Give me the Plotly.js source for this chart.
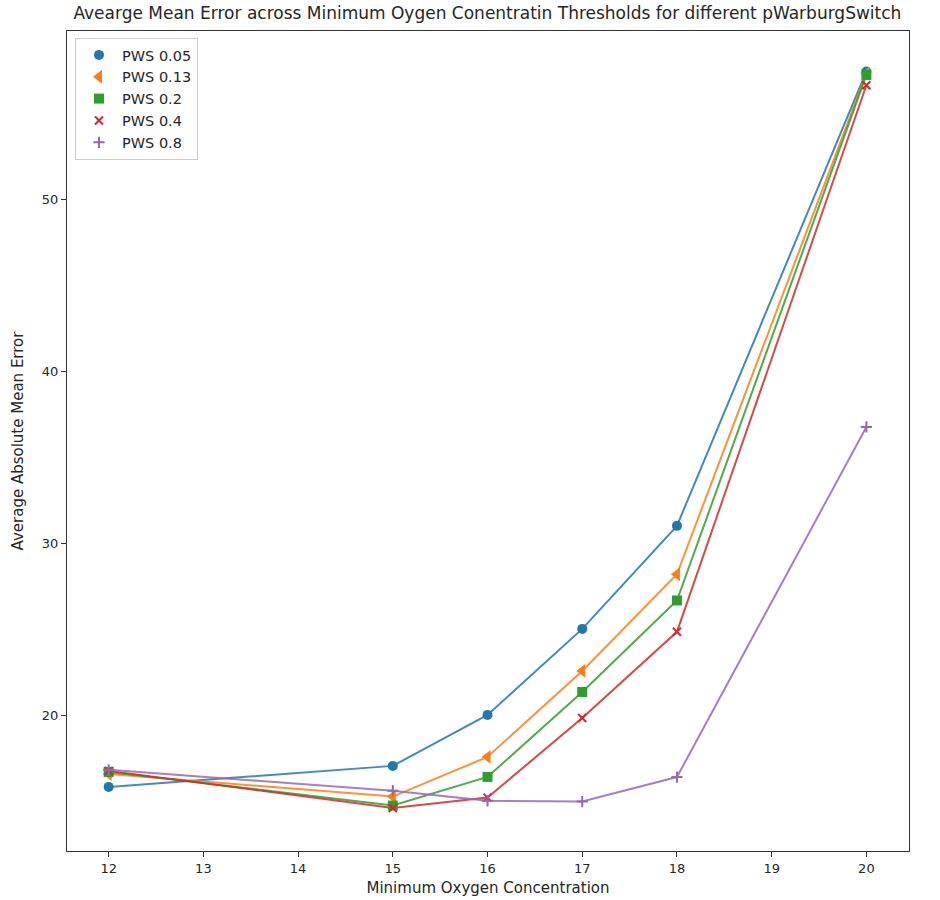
<!DOCTYPE html>
<html>
<head>
<meta charset="utf-8">
<script src="https://cdn.plot.ly/plotly-3.0.1.min.js"></script>
<style>body{margin:0;padding:0;background:#fff;} #chart{width:940px;height:900px;}</style>
</head>
<body>
<div id="chart"></div>
<script>
const xValues = [12, 15, 16, 17, 18, 20];
const seriesNames = ["PWS 0.05", "PWS 0.13", "PWS 0.2", "PWS 0.4", "PWS 0.8"];
const pws005 = [15.88, 17.10, 20.06, 25.05, 31.03, 57.40];
const pws013 = [16.63, 15.32, 17.62, 22.61, 28.22, 57.28];
const pws02  = [16.75, 14.80, 16.46, 21.39, 26.70, 57.20];
const pws04  = [16.81, 14.66, 15.26, 19.88, 24.88, 56.60];
const pws08  = [16.87, 15.66, 15.07, 15.03, 16.45, 36.77];
const xTicks = [12, 13, 14, 15, 16, 17, 18, 19, 20];
const yTicks = [20, 30, 40, 50];

const seriesData = [pws005, pws013, pws02, pws04, pws08];
const colors = ["#1f77b4", "#ff7f0e", "#2ca02c", "#d62728", "#9467bd"];
const symbols = ["circle", "triangle-left", "square", "x-thin-open", "cross-thin-open"];
const sizes = [10, 12, 10, 8, 8];

const traces = [];
seriesData.forEach((ys, i) => {
  traces.push({
    x: xValues, y: ys, type: "scatter", mode: "lines",
    line: {color: colors[i], width: 2}, opacity: 0.85,
    showlegend: false, hoverinfo: "skip"
  });
});
seriesData.forEach((ys, i) => {
  const thin = symbols[i].indexOf("thin") >= 0;
  traces.push({
    x: xValues, y: ys, type: "scatter", mode: "markers",
    name: seriesNames[i], legendgroup: "g" + i,
    marker: {color: colors[i], symbol: symbols[i], size: sizes[i],
             line: {color: colors[i], width: thin ? 2 : 0}}
  });
});

const layout = {
  width: 940, height: 900,
  margin: {l: 67, r: 31, t: 31, b: 49},
  paper_bgcolor: "#fff", plot_bgcolor: "#fff",
  font: {family: "DejaVu Sans", color: "#262626", size: 13},
  title: {text: "Avearge Mean Error across Minimum Oygen Conentratin Thresholds for different pWarburgSwitch",
          font: {family: "DejaVu Sans", size: 17, color: "#262626"},
          x: 0.5185, xanchor: "center", y: 0.985, yanchor: "middle"},
  xaxis: {
    range: [11.56, 20.45], tickvals: xTicks, ticktext: xTicks.map(String),
    showgrid: false, zeroline: false, ticks: "outside", ticklen: 5, tickwidth: 1,
    tickcolor: "#333", showline: true, linecolor: "#333", linewidth: 1.2, mirror: true,
    tickfont: {size: 13, color: "#262626"},
    title: {text: "Minimum Oxygen Concentration", font: {size: 15, color: "#262626"}, standoff: 7}
  },
  yaxis: {
    range: [12.16, 59.75], tickvals: yTicks, ticktext: yTicks.map(String),
    showgrid: false, zeroline: false, ticks: "outside", ticklen: 5, tickwidth: 1,
    tickcolor: "#333", showline: true, linecolor: "#333", linewidth: 1.2, mirror: true,
    tickfont: {size: 13, color: "#262626"},
    title: {text: "Average Absolute Mean Error", font: {size: 15, color: "#262626"}, standoff: 14}
  },
  legend: {
    x: 0.0095, y: 0.9915, xanchor: "left", yanchor: "top",
    bgcolor: "rgba(255,255,255,0.9)", bordercolor: "#cccccc", borderwidth: 1,
    font: {size: 14.5, color: "#262626"}, itemwidth: 36, tracegroupgap: 0
  },
  showlegend: true
};

Plotly.newPlot("chart", traces, layout, {displayModeBar: false, staticPlot: true});
</script>
</body>
</html>
